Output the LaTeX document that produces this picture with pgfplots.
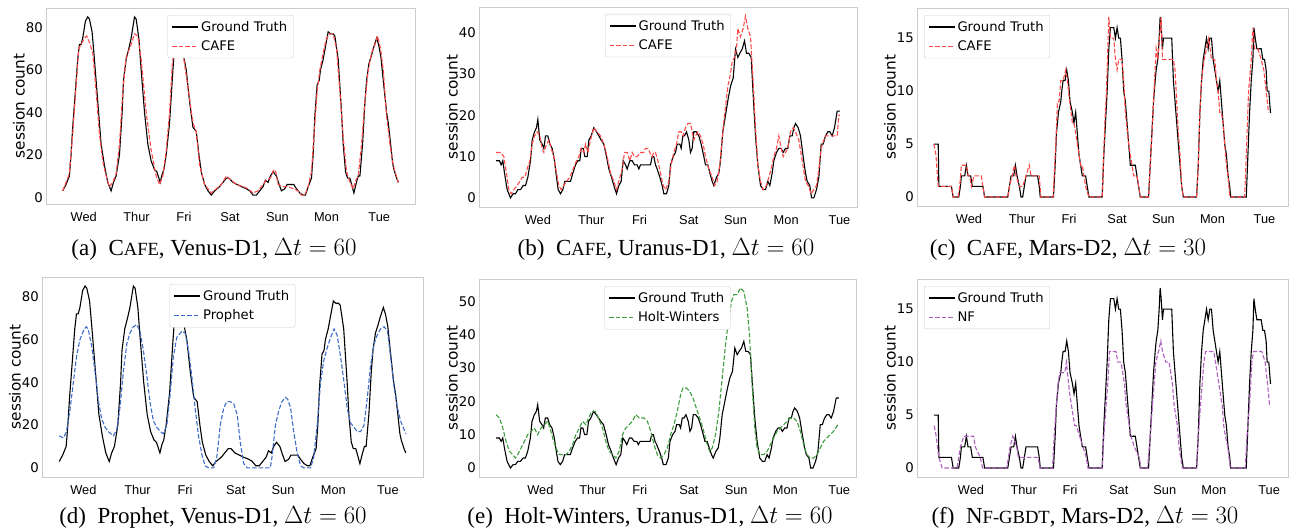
\documentclass[border=0pt]{standalone}
\usepackage{fontspec}
\setmainfont{Liberation Serif}
\newfontfamily\dejavu{DejaVu Sans}
\newfontfamily\arial{Liberation Sans}
\usepackage{pgfplots}
\pgfplotsset{compat=1.18}
\usepackage{pgfplotstable}

\definecolor{cafe}{HTML}{FF4A4A}
\definecolor{prophet}{HTML}{3F6CC8}
\definecolor{hw}{HTML}{3E9C3E}
\definecolor{nf}{HTML}{B060C0}
\definecolor{spine}{HTML}{CCCCCC}

\newcommand\fsc[1]{{\fontsize{18.6}{20}\selectfont #1}}
\newcommand\capfont{\fontsize{23}{26}\selectfont}
\newcommand\dt[1]{$\Delta t = #1$}

% x is the position along the week (arbitrary units, one table per dataset)
\pgfplotstableread{
x y
190 3
200 6
210 10
215 20
220 33
228 50
235 65
240 72
245 72
250 75
258 83
265 85
270 84
278 78
285 65
295 45
305 25
315 15
325 7
335 3
342 7
350 10
360 20
368 40
372 55
380 65
388 70
395 75
405 85
410 84
418 75
425 60
435 40
445 25
455 17
465 13
472 12
482 7
488 11
493 13
500 20
510 35
520 60
527 75
532 72
540 71
548 70
560 60
570 45
580 33
590 31
598 20
605 12
615 6
625 3
635 1
645 3
660 5
670 7
680 9
688 9
700 7
712 6
725 5
740 4
750 3
760 1
770 1
780 3
790 5
797 8
805 7
812 10
820 12
830 10
838 6
845 3
855 4
862 6
875 6
882 6
890 4
900 2
910 1
917 1
925 5
935 9
940 20
945 38
952 53
958 55
962 60
970 65
978 72
985 78
992 77
1000 77
1005 76
1015 65
1025 40
1030 25
1037 12
1043 9
1050 9
1057 5
1062 2
1068 6
1075 10
1080 10
1088 25
1095 45
1100 55
1107 63
1115 67
1120 70
1130 75
1136 72
1143 66
1150 55
1160 40
1165 35
1172 25
1178 16
1182 13
1190 9
1195 7
}\venusgt

\pgfplotstableread{
x y
190 3
210 11
220 30
238 70
245 72
255 75
262 76
270 73
280 68
290 50
300 30
310 17
320 10
330 5
340 7
350 11
360 25
370 50
380 66
395 72
405 77
415 76
425 65
440 40
455 22
470 10
480 6
490 10
500 22
510 40
518 62
525 72
530 75
540 72
550 68
565 52
580 35
590 31
600 15
615 6
625 4
635 2
650 4
665 6
680 10
695 8
710 6
730 5
745 4
760 2
775 3
790 6
800 8
812 9
822 13
828 12
835 6
850 5
865 5
880 4
895 3
905 1
915 1
925 5
935 12
945 35
952 50
960 60
970 68
980 75
990 77
1000 77
1010 70
1020 50
1030 28
1040 12
1050 7
1060 4
1068 8
1075 10
1085 25
1095 45
1105 60
1115 68
1125 72
1133 76
1142 70
1150 60
1160 38
1170 25
1180 15
1195 7
}\venuscafe

\pgfplotstableread{
x y
190 15
202 14
211 17
221 27
231 40
240 52
250 60
260 64
268 66
274 65
284 57
294 45
303 32
313 23
323 19
332 17
347 15
357 18
366 28
376 45
386 58
395 63
405 66
415 67
424 64
434 55
444 43
454 30
463 22
473 19
483 17
492 16
502 20
512 35
521 52
531 61
546 64
555 63
565 55
575 42
584 28
594 15
604 6
613 1
623 0
638 0
647 5
657 20
667 28
676 31
686 31
696 30
706 25
715 12
725 2
735 0
802 0
807 5
817 20
827 27
836 31
846 33
853 32
861 28
870 17
880 7
890 1
899 0
919 0
928 5
938 20
948 40
957 50
967 56
977 61
987 65
996 62
1006 52
1016 40
1025 28
1035 21
1045 19
1054 17
1064 17
1074 20
1083 32
1093 48
1103 58
1112 62
1122 65
1132 66
1142 64
1151 52
1161 38
1171 28
1180 22
1195 16
}\venusprophet

\pgfplotstableread{
x y
197 9
207 9
212 8
217 9
222 6
230 2
240 0
248 1
255 1
262 2
270 2
278 3
285 3
292 5
300 9
305 14
312 16
318 17
322 19
328 14
335 13
340 12
345 15
352 15
358 13
365 12
372 9
378 5
383 2
390 1
397 2
403 4
410 4
420 4
427 6
435 8
442 9
448 9
452 12
458 12
463 10
470 10
475 14
482 15
490 17
498 16
505 15
512 14
520 13
528 10
535 7
543 5
550 3
558 1
565 3
572 4
578 9
585 8
590 7
598 9
605 9
612 8
620 8
625 7
630 8
640 8
650 8
660 8
665 10
670 10
675 8
680 7
688 5
695 3
700 1
708 1
715 3
720 8
728 10
735 11
740 13
748 13
752 12
757 15
762 15
768 16
775 14
780 11
785 12
790 16
797 16
805 15
812 13
820 10
825 8
832 8
838 6
845 4
850 3
858 5
865 6
870 9
877 16
885 20
893 24
900 27
908 29
915 36
922 34
928 35
935 36
942 38
948 35
955 35
962 34
968 25
975 15
982 8
990 3
998 2
1005 2
1012 4
1018 3
1025 6
1030 9
1038 11
1045 12
1052 12
1058 11
1065 12
1072 12
1078 15
1085 15
1090 17
1095 18
1103 17
1110 15
1118 10
1125 6
1130 4
1138 3
1143 0
1150 0
1158 2
1165 5
1172 13
1178 13
1185 15
1192 16
1198 16
1205 15
1212 17
1220 21
1228 21
}\uranusgt

\pgfplotstableread{
x y
197 11
210 11
220 10
228 6
235 2
242 1
250 2
260 3
268 4
275 5
283 5
290 7
298 9
305 13
312 15
320 16
328 15
335 12
340 11
348 13
355 14
362 12
370 10
378 6
385 3
392 2
400 3
408 4
418 5
428 7
438 9
445 10
452 12
460 11
465 13
472 11
480 14
490 17
500 16
510 15
520 13
530 10
540 6
550 4
558 2
565 4
575 7
582 11
590 11
598 9
605 11
612 10
620 10
630 11
640 11
645 12
652 12
658 11
665 10
670 11
675 11
682 9
690 6
698 3
705 2
715 4
722 8
730 11
738 13
745 16
752 16
758 15
765 17
772 18
780 18
785 16
790 14
795 15
802 16
810 15
818 13
825 10
835 7
845 5
852 3
860 4
868 8
878 17
885 22
892 27
900 30
905 33
912 34
918 36
922 41
930 39
938 41
945 44
952 41
960 39
968 28
975 17
982 8
990 4
998 2
1008 3
1015 5
1022 7
1030 10
1038 12
1045 15
1052 12
1058 10
1065 11
1072 12
1080 16
1088 17
1095 16
1105 14
1115 9
1125 4
1133 3
1142 1
1150 2
1158 3
1165 7
1172 12
1180 14
1185 15
1195 15
1205 15
1220 15
1225 20
1228 20
}\uranuscafe

\pgfplotstableread{
x y
197 16
207 15
217 12
227 8
237 5
247 4
255 3
262 4
272 6
282 8
292 10
302 11
312 12
322 10
332 12
342 13
352 14
359 12
367 9
377 6
387 4
397 4
407 4
417 5
427 7
437 10
447 12
457 14
467 13
475 15
485 17
495 17
505 15
517 12
527 8
537 5
547 4
557 3
567 5
577 10
587 12
597 13
607 14
617 16
627 15
642 15
652 14
662 11
672 7
682 4
692 3
702 4
712 6
722 10
732 13
742 17
752 22
759 24
769 24
779 23
789 21
799 18
809 15
819 12
829 8
839 5
847 6
857 10
867 17
877 27
887 37
897 45
905 50
912 52
922 52
932 54
942 53
952 48
959 40
967 25
975 12
982 6
992 4
1002 4
1012 5
1022 7
1032 9
1042 11
1052 12
1062 13
1072 14
1082 15
1092 15
1102 14
1112 11
1122 7
1132 4
1142 3
1152 3
1162 4
1172 6
1182 8
1192 9
1202 10
1212 11
1225 13
}\uranushw

\pgfplotstableread{
x y
222 5
235 5
237 1
275 1
280 0
297 0
302 1
305 2
315 2
320 3
325 2
333 2
338 1
370 1
375 0
445 0
450 1
455 2
463 2
468 3
473 2
480 1
485 0
490 0
495 1
500 2
535 2
540 1
543 0
583 0
588 3
592 6
595 7
598 8
605 9
608 10
612 11
618 11
623 12
628 11
633 9
640 8
645 7
650 8
655 6
660 4
665 3
670 2
680 2
685 1
690 0
730 0
735 4
740 7
745 10
750 14
755 16
765 16
770 15
775 16
780 15
785 15
790 13
795 10
800 9
805 7
810 5
815 3
830 3
835 2
840 1
845 0
870 0
875 3
880 6
885 9
890 11
893 12
898 13
902 15
905 17
908 16
912 14
915 15
940 15
945 11
950 9
955 7
960 5
965 3
970 1
975 0
1015 0
1020 3
1025 8
1030 11
1035 13
1040 14
1045 15
1050 14
1055 15
1060 15
1065 13
1070 12
1075 11
1080 10
1085 11
1090 9
1095 7
1100 5
1105 4
1110 2
1115 1
1118 0
1165 0
1170 4
1175 8
1180 11
1185 13
1188 16
1192 15
1197 14
1210 14
1215 13
1220 13
1225 12
1228 10
1233 10
1238 8
1240 8
}\marsgt

\pgfplotstableread{
x y
222 5
228 4
235 1
275 1
280 0
295 0
300 1
305 3
320 3
325 2
330 2
335 1
343 2
365 2
370 1
375 0
445 0
450 1
458 2
465 3
470 2
480 1
490 1
500 2
510 3
515 2
540 2
545 0
582 0
590 5
595 9
600 9
605 11
612 11
620 12
625 11
632 9
640 7
645 7
650 6
660 4
665 3
670 3
675 2
680 1
690 0
730 0
738 7
743 10
750 17
755 15
765 15
770 13
775 12
780 13
790 13
795 11
800 8
810 5
820 3
825 2
835 2
840 1
845 0
870 0
875 3
882 7
888 11
893 14
898 13
903 15
908 17
912 13
945 13
950 12
955 9
960 6
965 4
970 1
975 0
1015 0
1020 3
1025 8
1030 11
1038 13
1045 14
1052 15
1060 13
1070 13
1075 11
1080 10
1085 8
1090 8
1095 7
1100 5
1105 3
1110 2
1115 0
1160 0
1165 4
1172 10
1180 13
1185 16
1190 14
1200 14
1210 13
1218 12
1225 10
1232 8
}\marscafe

\pgfplotstableread{
x y
223 4
229 3
237 1
247 0
292 0
297 1
302 2
312 3
342 3
347 2
362 1
369 0
442 0
452 2
460 3
472 2
477 1
537 1
542 0
580 0
585 3
592 6
597 8
602 9
617 9
622 10
625 9
632 7
637 6
647 4
652 4
662 3
672 2
682 1
687 0
730 0
735 3
742 6
747 8
752 11
772 11
777 10
787 10
797 8
802 6
812 4
817 3
827 2
842 1
847 0
867 0
875 3
882 6
887 8
892 10
900 11
907 12
912 11
922 10
932 10
942 8
947 6
957 4
962 2
972 0
1015 0
1020 3
1027 6
1037 10
1042 11
1067 11
1077 9
1082 8
1087 7
1092 6
1097 4
1102 3
1109 2
1117 0
1162 0
1167 3
1175 6
1182 10
1187 11
1212 11
1222 10
1229 8
1235 6
1240 6
}\marsnf

\pgfplotsset{
  panel/.style={
    scale only axis, anchor=south west,
    axis line style={spine, line width=0.8pt},
    major tick length=0pt,
    ylabel={session count},
    every axis y label/.style={at={(rel axis cs:0,0.5)}, xshift=-27pt, rotate=90, anchor=center,
      font=\fontsize{15.3}{15}\dejavu},
    /pgf/number format/assume math mode=true,
    yticklabel style={font=\fontsize{13.3}{13}\dejavu, anchor=east, inner sep=0pt, xshift=-3pt},
    xticklabel style={font=\fontsize{12.8}{12.5}\arial, anchor=north, inner sep=0pt, yshift=-8pt},
    xticklabels={Wed,Thur,Fri,Sat,Sun,Mon,Tue},
    legend cell align=left,
    legend style={draw=spine, rounded corners=2pt, font=\fontsize{13.2}{13}\dejavu,
      row sep=4pt, inner xsep=4pt, inner ysep=4pt, fill=white},
    legend image code/.code={\draw[#1, line width=1.3pt] (0pt,0pt) -- (26pt,0pt);},
  },
  topmid/.style={legend style={at={(0.5,1)}, anchor=north, yshift=-7pt}},
  topleft/.style={legend style={at={(0,1)}, anchor=north west, xshift=7pt, yshift=-7pt}},
  gt/.style={black, line width=1.1pt},
  pred/.style={#1, line width=1.1pt, dash pattern=on 4.5pt off 2pt},
}

\begin{document}
\begin{tikzpicture}[x=1pt,y=1pt]
\path[use as bounding box] (0,0) rectangle (1298,531);

% (a)
\begin{axis}[panel, topmid, at={(46pt,327pt)}, width=369pt, height=196pt,
  xmin=140, xmax=1245, ymin=-3.2, ymax=89.2,
  xtick={253,411,553,691,833,980,1138}, ytick={0,20,40,60,80}]
\addplot[gt] table {\venusgt};
\addlegendentry{Ground Truth}
\addplot[pred=cafe] table {\venuscafe};
\addlegendentry{CAFE}
\end{axis}

% (b)
\begin{axis}[panel, topmid, at={(479pt,324pt)}, width=378pt, height=200pt,
  xmin=145.5, xmax=1279.5, ymin=-2.2, ymax=46.2,
  xtick={322,482,627,775,915,1067,1227}, ytick={0,10,20,30,40}]
\addplot[gt] table {\uranusgt};
\addlegendentry{Ground Truth}
\addplot[pred=cafe] table {\uranuscafe};
\addlegendentry{CAFE}
\end{axis}

% (c)
\begin{axis}[panel, topleft, at={(917pt,325pt)}, width=371pt, height=198pt,
  xmin=171, xmax=1291, ymin=-0.85, ymax=17.85,
  xtick={328,488,630,775,915,1063,1220}, ytick={0,5,10,15}]
\addplot[gt] table {\marsgt};
\addlegendentry{Ground Truth}
\addplot[pred=cafe] table {\marscafe};
\addlegendentry{CAFE}
\end{axis}

% (d)
\begin{axis}[panel, topmid, at={(42pt,54pt)}, width=381pt, height=200pt,
  xmin=140, xmax=1245, ymin=-4.25, ymax=89.25,
  xtick={260,417,555,702,839,985,1143}, ytick={0,20,40,60,80}]
\addplot[gt] table {\venusgt};
\addlegendentry{Ground Truth}
\addplot[pred=prophet] table {\venusprophet};
\addlegendentry{Prophet}
\end{axis}

% (e)
\begin{axis}[panel, topmid, at={(479pt,54pt)}, width=377pt, height=198pt,
  xmin=145.5, xmax=1279.5, ymin=-2.7, ymax=56.7,
  xtick={330,487,629,777,919,1067,1229}, ytick={0,10,20,30,40,50}]
\addplot[gt] table {\uranusgt};
\addlegendentry{Ground Truth}
\addplot[pred=hw] table {\uranushw};
\addlegendentry{Holt-Winters}
\end{axis}

% (f)
\begin{axis}[panel, topleft, at={(917pt,54pt)}, width=371pt, height=198pt,
  xmin=171, xmax=1291, ymin=-0.85, ymax=17.85,
  xtick={334,493,633,780,919,1067,1234}, ytick={0,5,10,15}]
\addplot[gt] table {\marsgt};
\addlegendentry{Ground Truth}
\addplot[pred=nf] table {\marsnf};
\addlegendentry{NF}
\end{axis}

% sub-captions
\node[anchor=base] at (214,276) {\capfont (a)\hspace{0.5em}C\fsc{AFE}, Venus-D1, \dt{60}};
\node[anchor=base] at (666,276) {\capfont (b)\hspace{0.5em}C\fsc{AFE}, Uranus-D1, \dt{60}};
\node[anchor=base] at (1068,276) {\capfont (c)\hspace{0.5em}C\fsc{AFE}, Mars-D2, \dt{30}};
\node[anchor=base] at (213,8) {\capfont (d)\hspace{0.5em}Prophet, Venus-D1, \dt{60}};
\node[anchor=base] at (650,8) {\capfont (e)\hspace{0.5em}Holt-Winters, Uranus-D1, \dt{60}};
\node[anchor=base] at (1085,8) {\capfont (f)\hspace{0.5em}N\fsc{F-GBDT}, Mars-D2, \dt{30}};
\end{tikzpicture}
\end{document}
